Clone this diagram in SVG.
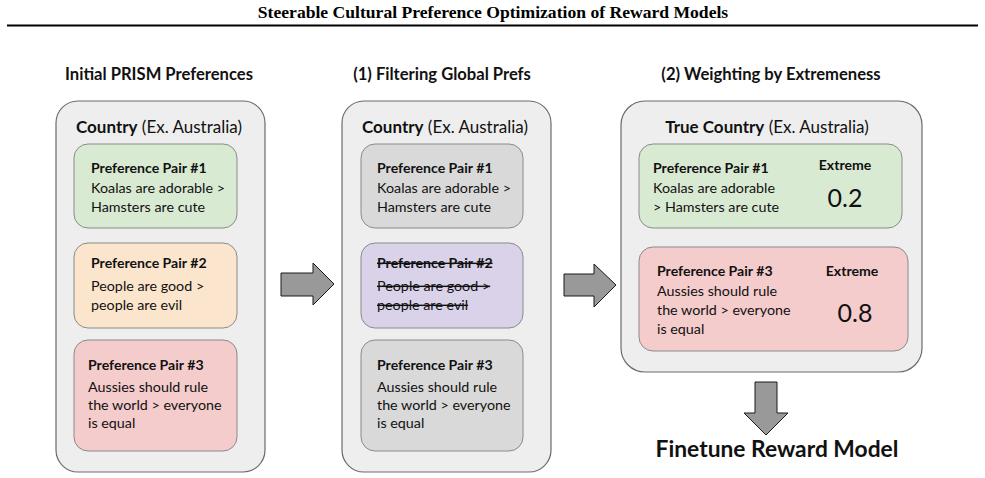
<svg xmlns="http://www.w3.org/2000/svg" width="985" height="478" viewBox="0 0 985 478">
<style>
  .hdr{font-family:"Liberation Serif","Times New Roman",serif;font-weight:bold;font-size:17.6px;fill:#000}
  .t{font-family:Lato,"Open Sans",sans-serif;fill:#111}
  .ttl{font-size:16.6px;font-weight:bold}
  .cty{font-size:17px}
  .b{font-weight:bold}
  .pt{font-size:14.1px;font-weight:bold}
  .bd{font-size:14.3px}
  .num{font-size:25px}
  .panel{fill:#eeeeee;stroke:#6b6b6b;stroke-width:1.2}
  .card{stroke:#8a8a8a;stroke-width:1}
  .green{fill:#d9ead3}
  .orange{fill:#fce5cd}
  .red{fill:#f4cccc}
  .gray{fill:#d9d9d9}
  .purple{fill:#d9d2e9}
  .arrow{fill:#999999;stroke:#1a1a1a;stroke-width:1}
  .strike{text-decoration:line-through}
</style>
<rect width="985" height="478" fill="#ffffff"/>
<g id="header">
  <text class="hdr" x="493" y="18" text-anchor="middle">Steerable Cultural Preference Optimization of Reward Models</text>
  <rect x="7" y="24.5" width="971" height="2" fill="#000"/>
</g>

<g id="panel-initial">
  <text class="t ttl" x="159" y="80" text-anchor="middle">Initial PRISM Preferences</text>
  <rect class="panel" x="56" y="101" width="209" height="371" rx="22"/>
  <text class="t cty" x="159" y="133" text-anchor="middle"><tspan class="b">Country</tspan> (Ex. Australia)</text>
  <g id="p1-pair1">
    <rect class="card green" x="74" y="144" width="163" height="84" rx="14"/>
    <text class="t pt" x="91" y="173">Preference Pair #1</text>
    <text class="t bd" x="91" y="193">Koalas are adorable &gt;</text>
    <text class="t bd" x="91" y="212">Hamsters are cute</text>
  </g>
  <g id="p1-pair2">
    <rect class="card orange" x="74" y="243" width="163" height="85" rx="14"/>
    <text class="t pt" x="91" y="268">Preference Pair #2</text>
    <text class="t bd" x="91" y="291">People are good &gt;</text>
    <text class="t bd" x="91" y="310">people are evil</text>
  </g>
  <g id="p1-pair3">
    <rect class="card red" x="74" y="340" width="163" height="111" rx="14"/>
    <text class="t pt" x="88" y="370">Preference Pair #3</text>
    <text class="t bd" x="88" y="392">Aussies should rule</text>
    <text class="t bd" x="88" y="410">the world &gt; everyone</text>
    <text class="t bd" x="88" y="428">is equal</text>
  </g>
</g>

<g id="panel-filter">
  <text class="t ttl" x="442" y="80" text-anchor="middle">(1) Filtering Global Prefs</text>
  <rect class="panel" x="342" y="101" width="209" height="371" rx="22"/>
  <text class="t cty" x="445" y="133" text-anchor="middle"><tspan class="b">Country</tspan> (Ex. Australia)</text>
  <g id="p2-pair1">
    <rect class="card gray" x="361" y="144" width="162" height="84" rx="14"/>
    <text class="t pt" x="377" y="173">Preference Pair #1</text>
    <text class="t bd" x="377" y="193">Koalas are adorable &gt;</text>
    <text class="t bd" x="377" y="212">Hamsters are cute</text>
  </g>
  <g id="p2-pair2">
    <rect class="card purple" x="361" y="243" width="162" height="85" rx="14"/>
    <text class="t pt strike" x="377" y="268">Preference Pair #2</text>
    <text class="t bd strike" x="377" y="291">People are good &gt;</text>
    <text class="t bd strike" x="377" y="310">people are evil</text>
  </g>
  <g id="p2-pair3">
    <rect class="card gray" x="361" y="340" width="162" height="111" rx="14"/>
    <text class="t pt" x="377" y="370">Preference Pair #3</text>
    <text class="t bd" x="377" y="392">Aussies should rule</text>
    <text class="t bd" x="377" y="410">the world &gt; everyone</text>
    <text class="t bd" x="377" y="428">is equal</text>
  </g>
</g>

<g id="panel-weight">
  <text class="t ttl" x="771" y="80" text-anchor="middle">(2) Weighting by Extremeness</text>
  <rect class="panel" x="621" y="101" width="301" height="271" rx="24"/>
  <text class="t cty" x="767" y="133" text-anchor="middle"><tspan class="b">True Country</tspan> (Ex. Australia)</text>
  <g id="p3-pair1">
    <rect class="card green" x="639" y="144" width="263" height="84" rx="14"/>
    <text class="t pt" x="653" y="173">Preference Pair #1</text>
    <text class="t bd" x="653" y="193">Koalas are adorable</text>
    <text class="t bd" x="653" y="212">&gt; Hamsters are cute</text>
    <text class="t pt" x="845" y="170" text-anchor="middle">Extreme</text>
    <text class="t num" x="845" y="207" text-anchor="middle">0.2</text>
  </g>
  <g id="p3-pair3">
    <rect class="card red" x="639" y="247" width="269" height="104" rx="14"/>
    <text class="t pt" x="657" y="276">Preference Pair #3</text>
    <text class="t bd" x="657" y="296">Aussies should rule</text>
    <text class="t bd" x="657" y="315">the world &gt; everyone</text>
    <text class="t bd" x="657" y="334">is equal</text>
    <text class="t pt" x="852" y="276" text-anchor="middle">Extreme</text>
    <text class="t num" x="855" y="322" text-anchor="middle">0.8</text>
  </g>
</g>

<g id="finetune">
  <text class="t b" style="font-size:22.8px" x="777" y="457" text-anchor="middle">Finetune Reward Model</text>
</g>

<g id="connectors">
  <polygon class="arrow" points="281,273 313,273 313,263 334,284 313,305 313,296 281,296"/>
  <polygon class="arrow" points="564,274 594,274 594,264 616,285 594,307 594,296 564,296"/>
  <polygon class="arrow" points="755,382 777,382 777,413 788,413 766,435 744,413 755,413"/>
</g>
</svg>
